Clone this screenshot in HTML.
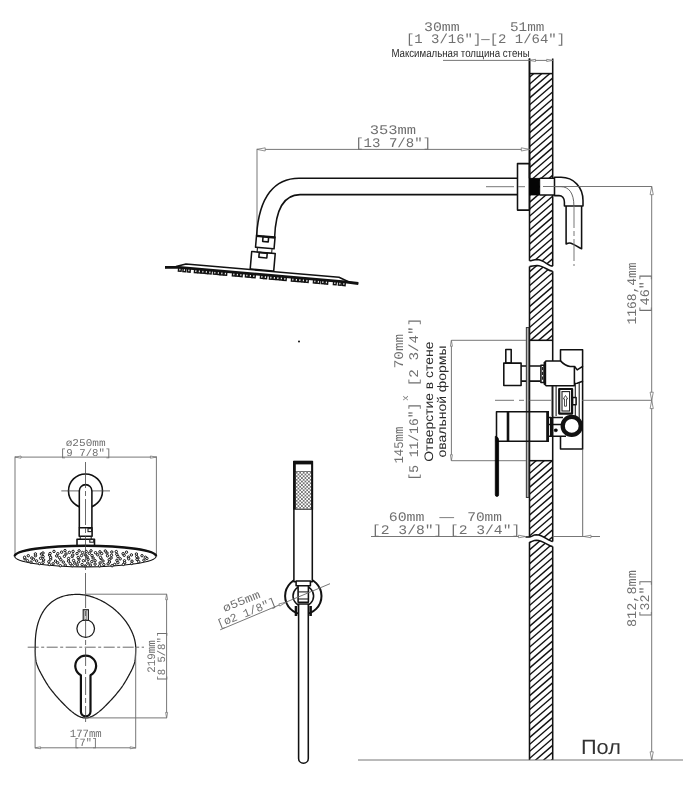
<!DOCTYPE html>
<html><head><meta charset="utf-8"><title>Shower system dimensions</title>
<style>
html,body{margin:0;padding:0;background:#fff;}
body{width:683px;height:800px;overflow:hidden;font-family:"Liberation Sans",sans-serif;}
svg{display:block;filter:grayscale(1)}
.k{fill:none;stroke:#111;stroke-width:1.55;stroke-linejoin:round;stroke-linecap:butt}
.pl{fill:#b5b5b5;stroke:#222;stroke-width:0.9}
.kw{fill:#fff;stroke:#111;stroke-width:1.1}
.kw2{fill:#fff;stroke:#111;stroke-width:1.55;stroke-linejoin:round}
.k2{fill:none;stroke:#222;stroke-width:1.1}
.k2g{fill:none;stroke:#555;stroke-width:0.9}
.k3{fill:#fff;stroke:#222;stroke-width:0.8}
.kb{fill:none;stroke:#111;stroke-width:2.6;stroke-linejoin:round}
.kb3{fill:none;stroke:#111;stroke-width:2.8;stroke-linejoin:round}
.ke{fill:none;stroke:#1a1a1a;stroke-width:1.25}
.kw3{fill:#fff;stroke:#1a1a1a;stroke-width:1.1}
.k4{fill:none;stroke:#333;stroke-width:0.6}
.kb2{fill:#fff;stroke:#111;stroke-width:2.2;stroke-linejoin:round}
.kf0{fill:#111;stroke:none}
.w0{fill:#fff;stroke:none}
.kf{fill:#050505;stroke:#050505;stroke-width:0.8}
.h{stroke:#111;stroke-width:1.4}
.d{fill:none;stroke:#707070;stroke-width:0.95}
.ar{fill:#fff;stroke:#777;stroke-width:0.8;stroke-linejoin:miter}
.d3{fill:none;stroke:#444;stroke-width:0.8}
.d2{fill:none;stroke:#666;stroke-width:0.9}
.nz{fill:none;stroke:#111;stroke-width:1.5}
.n{fill:#fff;stroke:#111;stroke-width:1.0}
text{text-rendering:geometricPrecision}
.t{font-family:"Liberation Mono",monospace;fill:#707070;}
.ts{font-family:"Liberation Sans",sans-serif;fill:#2a2a2a;}
.tp{font-family:"Liberation Sans",sans-serif;fill:#333;}
.dots{fill:url(#dotp);stroke:none}
</style></head><body>
<svg width="683" height="800" viewBox="0 0 683 800">
<defs><pattern id="dotp" x="295.8" y="471.9" width="3.5" height="3.5" patternUnits="userSpaceOnUse"><rect width="3.5" height="3.5" fill="#fff"/><rect x="0.2" y="0.2" width="1.35" height="1.35" fill="#111"/><rect x="1.95" y="1.95" width="1.35" height="1.35" fill="#111"/></pattern></defs>
<rect width="683" height="800" fill="#fff"/>
<clipPath id="c0"><path d="M529.5,74 L552.7,74 L552.7,178.3 L539.8,178.3 L539.8,195 L552.7,195 L552.7,266.1 C548,266.1 544,259.7 537,259.5 C533.5,259.5 532,260.8 529.5,260.8 Z"/></clipPath>
<g clip-path="url(#c0)">
<line class="h" x1="528.5" y1="29.41" x2="553.7" y2="7.61"/>
<line class="h" x1="528.5" y1="36.36" x2="553.7" y2="14.56"/>
<line class="h" x1="528.5" y1="43.31" x2="553.7" y2="21.51"/>
<line class="h" x1="528.5" y1="50.26" x2="553.7" y2="28.46"/>
<line class="h" x1="528.5" y1="57.21" x2="553.7" y2="35.41"/>
<line class="h" x1="528.5" y1="64.16" x2="553.7" y2="42.36"/>
<line class="h" x1="528.5" y1="71.11" x2="553.7" y2="49.32"/>
<line class="h" x1="528.5" y1="78.06" x2="553.7" y2="56.27"/>
<line class="h" x1="528.5" y1="85.02" x2="553.7" y2="63.22"/>
<line class="h" x1="528.5" y1="91.97" x2="553.7" y2="70.17"/>
<line class="h" x1="528.5" y1="98.92" x2="553.7" y2="77.12"/>
<line class="h" x1="528.5" y1="105.87" x2="553.7" y2="84.07"/>
<line class="h" x1="528.5" y1="112.82" x2="553.7" y2="91.02"/>
<line class="h" x1="528.5" y1="119.77" x2="553.7" y2="97.97"/>
<line class="h" x1="528.5" y1="126.72" x2="553.7" y2="104.92"/>
<line class="h" x1="528.5" y1="133.67" x2="553.7" y2="111.87"/>
<line class="h" x1="528.5" y1="140.62" x2="553.7" y2="118.83"/>
<line class="h" x1="528.5" y1="147.57" x2="553.7" y2="125.78"/>
<line class="h" x1="528.5" y1="154.53" x2="553.7" y2="132.73"/>
<line class="h" x1="528.5" y1="161.48" x2="553.7" y2="139.68"/>
<line class="h" x1="528.5" y1="168.43" x2="553.7" y2="146.63"/>
<line class="h" x1="528.5" y1="175.38" x2="553.7" y2="153.58"/>
<line class="h" x1="528.5" y1="182.33" x2="553.7" y2="160.53"/>
<line class="h" x1="528.5" y1="189.28" x2="553.7" y2="167.48"/>
<line class="h" x1="528.5" y1="196.23" x2="553.7" y2="174.43"/>
<line class="h" x1="528.5" y1="203.18" x2="553.7" y2="181.38"/>
<line class="h" x1="528.5" y1="210.13" x2="553.7" y2="188.34"/>
<line class="h" x1="528.5" y1="217.08" x2="553.7" y2="195.29"/>
<line class="h" x1="528.5" y1="224.04" x2="553.7" y2="202.24"/>
<line class="h" x1="528.5" y1="230.99" x2="553.7" y2="209.19"/>
<line class="h" x1="528.5" y1="237.94" x2="553.7" y2="216.14"/>
<line class="h" x1="528.5" y1="244.89" x2="553.7" y2="223.09"/>
<line class="h" x1="528.5" y1="251.84" x2="553.7" y2="230.04"/>
<line class="h" x1="528.5" y1="258.79" x2="553.7" y2="236.99"/>
<line class="h" x1="528.5" y1="265.74" x2="553.7" y2="243.94"/>
<line class="h" x1="528.5" y1="272.69" x2="553.7" y2="250.89"/>
<line class="h" x1="528.5" y1="279.64" x2="553.7" y2="257.85"/>
<line class="h" x1="528.5" y1="286.59" x2="553.7" y2="264.80"/>
<line class="h" x1="528.5" y1="293.55" x2="553.7" y2="271.75"/>
<line class="h" x1="528.5" y1="300.50" x2="553.7" y2="278.70"/>
<line class="h" x1="528.5" y1="307.45" x2="553.7" y2="285.65"/>
</g>
<clipPath id="c1"><path d="M529.5,266.5 C532,266.5 533.5,265.4 537,265.4 C544,265.6 548,271.2 552.7,271.2 L552.7,340.3 L529.5,340.3 Z"/></clipPath>
<g clip-path="url(#c1)">
<line class="h" x1="528.5" y1="217.09" x2="553.7" y2="195.29"/>
<line class="h" x1="528.5" y1="224.04" x2="553.7" y2="202.24"/>
<line class="h" x1="528.5" y1="230.99" x2="553.7" y2="209.19"/>
<line class="h" x1="528.5" y1="237.94" x2="553.7" y2="216.14"/>
<line class="h" x1="528.5" y1="244.89" x2="553.7" y2="223.09"/>
<line class="h" x1="528.5" y1="251.84" x2="553.7" y2="230.04"/>
<line class="h" x1="528.5" y1="258.79" x2="553.7" y2="236.99"/>
<line class="h" x1="528.5" y1="265.74" x2="553.7" y2="243.94"/>
<line class="h" x1="528.5" y1="272.69" x2="553.7" y2="250.89"/>
<line class="h" x1="528.5" y1="279.64" x2="553.7" y2="257.85"/>
<line class="h" x1="528.5" y1="286.60" x2="553.7" y2="264.80"/>
<line class="h" x1="528.5" y1="293.55" x2="553.7" y2="271.75"/>
<line class="h" x1="528.5" y1="300.50" x2="553.7" y2="278.70"/>
<line class="h" x1="528.5" y1="307.45" x2="553.7" y2="285.65"/>
<line class="h" x1="528.5" y1="314.40" x2="553.7" y2="292.60"/>
<line class="h" x1="528.5" y1="321.35" x2="553.7" y2="299.55"/>
<line class="h" x1="528.5" y1="328.30" x2="553.7" y2="306.50"/>
<line class="h" x1="528.5" y1="335.25" x2="553.7" y2="313.45"/>
<line class="h" x1="528.5" y1="342.20" x2="553.7" y2="320.41"/>
<line class="h" x1="528.5" y1="349.15" x2="553.7" y2="327.36"/>
<line class="h" x1="528.5" y1="356.11" x2="553.7" y2="334.31"/>
<line class="h" x1="528.5" y1="363.06" x2="553.7" y2="341.26"/>
<line class="h" x1="528.5" y1="370.01" x2="553.7" y2="348.21"/>
<line class="h" x1="528.5" y1="376.96" x2="553.7" y2="355.16"/>
</g>
<clipPath id="c2"><path d="M529.5,460.7 L552.7,460.7 L552.7,541.4 C548,541.4 544,535 536.4,534.8 C533,534.8 531.5,537 529.5,537 Z"/></clipPath>
<g clip-path="url(#c2)">
<line class="h" x1="528.5" y1="418.66" x2="553.7" y2="396.87"/>
<line class="h" x1="528.5" y1="425.62" x2="553.7" y2="403.82"/>
<line class="h" x1="528.5" y1="432.57" x2="553.7" y2="410.77"/>
<line class="h" x1="528.5" y1="439.52" x2="553.7" y2="417.72"/>
<line class="h" x1="528.5" y1="446.47" x2="553.7" y2="424.67"/>
<line class="h" x1="528.5" y1="453.42" x2="553.7" y2="431.62"/>
<line class="h" x1="528.5" y1="460.37" x2="553.7" y2="438.57"/>
<line class="h" x1="528.5" y1="467.32" x2="553.7" y2="445.52"/>
<line class="h" x1="528.5" y1="474.27" x2="553.7" y2="452.47"/>
<line class="h" x1="528.5" y1="481.22" x2="553.7" y2="459.43"/>
<line class="h" x1="528.5" y1="488.17" x2="553.7" y2="466.38"/>
<line class="h" x1="528.5" y1="495.13" x2="553.7" y2="473.33"/>
<line class="h" x1="528.5" y1="502.08" x2="553.7" y2="480.28"/>
<line class="h" x1="528.5" y1="509.03" x2="553.7" y2="487.23"/>
<line class="h" x1="528.5" y1="515.98" x2="553.7" y2="494.18"/>
<line class="h" x1="528.5" y1="522.93" x2="553.7" y2="501.13"/>
<line class="h" x1="528.5" y1="529.88" x2="553.7" y2="508.08"/>
<line class="h" x1="528.5" y1="536.83" x2="553.7" y2="515.03"/>
<line class="h" x1="528.5" y1="543.78" x2="553.7" y2="521.98"/>
<line class="h" x1="528.5" y1="550.73" x2="553.7" y2="528.94"/>
<line class="h" x1="528.5" y1="557.68" x2="553.7" y2="535.89"/>
<line class="h" x1="528.5" y1="564.64" x2="553.7" y2="542.84"/>
<line class="h" x1="528.5" y1="571.59" x2="553.7" y2="549.79"/>
<line class="h" x1="528.5" y1="578.54" x2="553.7" y2="556.74"/>
</g>
<clipPath id="c3"><path d="M529.5,542.1 C531.5,542.1 533,540.2 536.4,540.2 C544,540.4 548,546.5 552.7,546.5 L552.7,760 L529.5,760 Z"/></clipPath>
<g clip-path="url(#c3)">
<line class="h" x1="528.5" y1="495.12" x2="553.7" y2="473.33"/>
<line class="h" x1="528.5" y1="502.08" x2="553.7" y2="480.28"/>
<line class="h" x1="528.5" y1="509.03" x2="553.7" y2="487.23"/>
<line class="h" x1="528.5" y1="515.98" x2="553.7" y2="494.18"/>
<line class="h" x1="528.5" y1="522.93" x2="553.7" y2="501.13"/>
<line class="h" x1="528.5" y1="529.88" x2="553.7" y2="508.08"/>
<line class="h" x1="528.5" y1="536.83" x2="553.7" y2="515.03"/>
<line class="h" x1="528.5" y1="543.78" x2="553.7" y2="521.98"/>
<line class="h" x1="528.5" y1="550.73" x2="553.7" y2="528.94"/>
<line class="h" x1="528.5" y1="557.68" x2="553.7" y2="535.89"/>
<line class="h" x1="528.5" y1="564.64" x2="553.7" y2="542.84"/>
<line class="h" x1="528.5" y1="571.59" x2="553.7" y2="549.79"/>
<line class="h" x1="528.5" y1="578.54" x2="553.7" y2="556.74"/>
<line class="h" x1="528.5" y1="585.49" x2="553.7" y2="563.69"/>
<line class="h" x1="528.5" y1="592.44" x2="553.7" y2="570.64"/>
<line class="h" x1="528.5" y1="599.39" x2="553.7" y2="577.59"/>
<line class="h" x1="528.5" y1="606.34" x2="553.7" y2="584.54"/>
<line class="h" x1="528.5" y1="613.29" x2="553.7" y2="591.49"/>
<line class="h" x1="528.5" y1="620.24" x2="553.7" y2="598.45"/>
<line class="h" x1="528.5" y1="627.19" x2="553.7" y2="605.40"/>
<line class="h" x1="528.5" y1="634.15" x2="553.7" y2="612.35"/>
<line class="h" x1="528.5" y1="641.10" x2="553.7" y2="619.30"/>
<line class="h" x1="528.5" y1="648.05" x2="553.7" y2="626.25"/>
<line class="h" x1="528.5" y1="655.00" x2="553.7" y2="633.20"/>
<line class="h" x1="528.5" y1="661.95" x2="553.7" y2="640.15"/>
<line class="h" x1="528.5" y1="668.90" x2="553.7" y2="647.10"/>
<line class="h" x1="528.5" y1="675.85" x2="553.7" y2="654.05"/>
<line class="h" x1="528.5" y1="682.80" x2="553.7" y2="661.00"/>
<line class="h" x1="528.5" y1="689.75" x2="553.7" y2="667.96"/>
<line class="h" x1="528.5" y1="696.70" x2="553.7" y2="674.91"/>
<line class="h" x1="528.5" y1="703.66" x2="553.7" y2="681.86"/>
<line class="h" x1="528.5" y1="710.61" x2="553.7" y2="688.81"/>
<line class="h" x1="528.5" y1="717.56" x2="553.7" y2="695.76"/>
<line class="h" x1="528.5" y1="724.51" x2="553.7" y2="702.71"/>
<line class="h" x1="528.5" y1="731.46" x2="553.7" y2="709.66"/>
<line class="h" x1="528.5" y1="738.41" x2="553.7" y2="716.61"/>
<line class="h" x1="528.5" y1="745.36" x2="553.7" y2="723.56"/>
<line class="h" x1="528.5" y1="752.31" x2="553.7" y2="730.51"/>
<line class="h" x1="528.5" y1="759.26" x2="553.7" y2="737.47"/>
<line class="h" x1="528.5" y1="766.21" x2="553.7" y2="744.42"/>
<line class="h" x1="528.5" y1="773.17" x2="553.7" y2="751.37"/>
<line class="h" x1="528.5" y1="780.12" x2="553.7" y2="758.32"/>
<line class="h" x1="528.5" y1="787.07" x2="553.7" y2="765.27"/>
<line class="h" x1="528.5" y1="794.02" x2="553.7" y2="772.22"/>
</g>
<line class="k" x1="529.5" y1="58.5" x2="529.5" y2="178.3"/>
<path class="k" d="M529.5,58.5 V260.8" />
<path class="k" d="M552.7,58.5 V178.3" />
<path class="k" d="M552.7,195 V266.1" />
<path class="k" d="M529.5,266.5 V537" />
<path class="k" d="M552.7,271.2 V541.4" />
<path class="k" d="M529.5,542.1 V760" />
<path class="k" d="M552.7,546.5 V760" />
<line class="k" x1="529.5" y1="73.6" x2="552.7" y2="73.6"/>
<path class="k" d="M529.5,260.8 C532,260.8 533.5,259.5 537,259.5 C544,259.7 548,266.1 552.7,266.1" />
<path class="k" d="M529.5,266.5 C532,266.5 533.5,265.4 537,265.4 C544,265.6 548,271.2 552.7,271.2" />
<path class="k" d="M525.5,537 L529.5,537 C531.5,537 533,534.8 536.4,534.8 C544,535 548,541.4 552.7,541.4" />
<path class="k" d="M529.5,542.1 C531.5,542.1 533,540.2 536.4,540.2 C544,540.4 548,546.5 552.7,546.5" />
<line class="k" x1="529.5" y1="340.3" x2="552.7" y2="340.3"/>
<line class="k" x1="529.5" y1="460.7" x2="552.7" y2="460.7"/>
<line class="d" x1="443" y1="60.4" x2="529.5" y2="60.4"/>
<line class="d" x1="529.5" y1="60.4" x2="552.7" y2="60.4"/>
<path class="ar" d="M529.50,60.40 L535.50,59.30 L535.50,61.50 Z"/>
<path class="ar" d="M552.70,60.40 L546.70,61.50 L546.70,59.30 Z"/>
<line class="d" x1="257" y1="149.4" x2="529.5" y2="149.4"/>
<line class="d" x1="257" y1="148.8" x2="257" y2="236"/>
<path class="ar" d="M257.00,149.40 L265.20,147.80 L265.20,151.00 Z"/>
<path class="ar" d="M529.50,149.40 L521.30,151.00 L521.30,147.80 Z"/>
<path class="k" d="M517.5,178.2 H299 C275,178.2 259,196 256.6,235.6" />
<path class="k" d="M517.5,194.6 H300 C284,194.6 275.5,210 274.6,237.8" />
<rect class="k" x="517.5" y="163.6" width="12" height="46.5" />
<rect class="kf" x="529.5" y="178.3" width="10.3" height="16.7" />
<path class="k" d="M539.8,178.3 H554 M539.8,195 H554" />
<path class="kw2" d="M554.5,177.3 H561 C573.5,177.3 583,187 583,200.6 V206 H564.4 V202 C564.4,198 562,195.6 559,195.6 H554.5 Z" />
<path class="k2g" d="M555,186.7 H561 C568.5,186.7 573.9,192.5 573.9,206" />
<path class="k" d="M566.1,206 V244 C568,243 569.5,242.8 571,243.2 C575,244.5 578,247.5 581.6,248.8 V206" />
<path class="d" d="M486,186.7 H514 M518,186.7 H525" />
<path class="d2" d="M543,186.5 H652" />
<path class="d" d="M574,206 V266" stroke-dasharray="22 3 5 3"/>
<g transform="rotate(5 265 242)">
<rect class="k" x="256" y="236.2" width="18.6" height="11.8" />
<path class="k" d="M256,237 H274.6" />
<rect class="k" x="262.6" y="236.6" width="5.6" height="5" />
<path class="k2" d="M258,248 V252.6 H272.6 V248" />
<rect class="k" x="252.6" y="252.6" width="23.6" height="17.6" />
<rect class="k" x="260.2" y="253" width="8" height="4.8" />
</g>
<path class="k" d="M165,267.4 L176,266.6 L186,264 L339,277.3 L349.5,282.2 L358.3,283.4" />
<path class="kb3" d="M165,267.4 L179,267.4 L345,281.9 L358.3,283.5" />
<path class="nz" d="M178.7,268.1 v3.1 h2.6 v-3.1" transform="rotate(5 180.0 268.1)"/>
<path class="nz" d="M183.2,268.5 v3.1 h2.6 v-3.1" transform="rotate(5 184.5 268.5)"/>
<path class="nz" d="M187.7,268.9 v3.1 h2.6 v-3.1" transform="rotate(5 189.0 268.9)"/>
<path class="nz" d="M194.7,269.5 v3.1 h2.6 v-3.1" transform="rotate(5 196.0 269.5)"/>
<path class="nz" d="M198.2,269.8 v3.1 h2.6 v-3.1" transform="rotate(5 199.5 269.8)"/>
<path class="nz" d="M201.7,270.1 v3.1 h2.6 v-3.1" transform="rotate(5 203.0 270.1)"/>
<path class="nz" d="M205.2,270.4 v3.1 h2.6 v-3.1" transform="rotate(5 206.5 270.4)"/>
<path class="nz" d="M208.7,270.7 v3.1 h2.6 v-3.1" transform="rotate(5 210.0 270.7)"/>
<path class="nz" d="M213.7,271.1 v3.1 h2.6 v-3.1" transform="rotate(5 215.0 271.1)"/>
<path class="nz" d="M217.2,271.4 v3.1 h2.6 v-3.1" transform="rotate(5 218.5 271.4)"/>
<path class="nz" d="M220.7,271.8 v3.1 h2.6 v-3.1" transform="rotate(5 222.0 271.8)"/>
<path class="nz" d="M224.2,272.1 v3.1 h2.6 v-3.1" transform="rotate(5 225.5 272.1)"/>
<path class="nz" d="M232.7,272.8 v3.1 h2.6 v-3.1" transform="rotate(5 234.0 272.8)"/>
<path class="nz" d="M236.2,273.1 v3.1 h2.6 v-3.1" transform="rotate(5 237.5 273.1)"/>
<path class="nz" d="M239.7,273.4 v3.1 h2.6 v-3.1" transform="rotate(5 241.0 273.4)"/>
<path class="nz" d="M245.7,273.9 v3.1 h2.6 v-3.1" transform="rotate(5 247.0 273.9)"/>
<path class="nz" d="M249.2,274.2 v3.1 h2.6 v-3.1" transform="rotate(5 250.5 274.2)"/>
<path class="nz" d="M252.7,274.5 v3.1 h2.6 v-3.1" transform="rotate(5 254.0 274.5)"/>
<path class="nz" d="M260.7,275.2 v3.1 h2.6 v-3.1" transform="rotate(5 262.0 275.2)"/>
<path class="nz" d="M264.2,275.6 v3.1 h2.6 v-3.1" transform="rotate(5 265.5 275.6)"/>
<path class="nz" d="M269.7,276.0 v3.1 h2.6 v-3.1" transform="rotate(5 271.0 276.0)"/>
<path class="nz" d="M273.2,276.3 v3.1 h2.6 v-3.1" transform="rotate(5 274.5 276.3)"/>
<path class="nz" d="M276.7,276.6 v3.1 h2.6 v-3.1" transform="rotate(5 278.0 276.6)"/>
<path class="nz" d="M280.2,276.9 v3.1 h2.6 v-3.1" transform="rotate(5 281.5 276.9)"/>
<path class="nz" d="M283.7,277.3 v3.1 h2.6 v-3.1" transform="rotate(5 285.0 277.3)"/>
<path class="nz" d="M291.7,278.0 v3.1 h2.6 v-3.1" transform="rotate(5 293.0 278.0)"/>
<path class="nz" d="M295.2,278.3 v3.1 h2.6 v-3.1" transform="rotate(5 296.5 278.3)"/>
<path class="nz" d="M298.7,278.6 v3.1 h2.6 v-3.1" transform="rotate(5 300.0 278.6)"/>
<path class="nz" d="M302.2,278.9 v3.1 h2.6 v-3.1" transform="rotate(5 303.5 278.9)"/>
<path class="nz" d="M305.7,279.2 v3.1 h2.6 v-3.1" transform="rotate(5 307.0 279.2)"/>
<path class="nz" d="M313.7,279.9 v3.1 h2.6 v-3.1" transform="rotate(5 315.0 279.9)"/>
<path class="nz" d="M317.2,280.2 v3.1 h2.6 v-3.1" transform="rotate(5 318.5 280.2)"/>
<path class="nz" d="M321.7,280.6 v3.1 h2.6 v-3.1" transform="rotate(5 323.0 280.6)"/>
<path class="nz" d="M325.2,280.9 v3.1 h2.6 v-3.1" transform="rotate(5 326.5 280.9)"/>
<path class="nz" d="M333.7,281.6 v3.1 h2.6 v-3.1" transform="rotate(5 335.0 281.6)"/>
<path class="nz" d="M338.7,282.1 v3.1 h2.6 v-3.1" transform="rotate(5 340.0 282.1)"/>
<path class="nz" d="M342.7,282.4 v3.1 h2.6 v-3.1" transform="rotate(5 344.0 282.4)"/>
<circle cx="299" cy="341.5" r="1" fill="#111"/>
<rect class="pl" x="526.3" y="327.6" width="2.6" height="169.8" />
<line class="d" x1="451.4" y1="340.3" x2="526" y2="340.3"/>
<line class="d" x1="451.4" y1="460.7" x2="526" y2="460.7"/>
<line class="d" x1="451.4" y1="340.3" x2="451.4" y2="460.7"/>
<path class="ar" d="M451.40,340.30 L452.40,346.30 L450.40,346.30 Z"/>
<path class="ar" d="M451.40,460.70 L450.40,454.70 L452.40,454.70 Z"/>
<path class="k" d="M560.5,360.9 V349.7 H582.6 V366.4 M582.6,381.3 V448.9 H560.5 V436.3" />
<line class="d3" x1="582.7" y1="448.9" x2="582.7" y2="536.5"/>
<rect class="kw2" x="505.8" y="349.5" width="5.4" height="13.6" />
<rect class="kw2" x="503.8" y="363.1" width="17.3" height="22.3" />
<path class="k" d="M521.1,365.9 H526.2 M521.1,381.1 H526.2 M529.5,365.9 H540.7 M529.5,381.1 H540.7" />
<rect class="kw2" x="540.9" y="365.3" width="3.3" height="17.2" />
<path class="k2" d="M542.5,367 V381" stroke-dasharray="3.2 1.6"/>
<path class="kw2" d="M544.7,362.4 L546.2,360.9 H560.5 C563,363.6 566,366 570.1,366.4 H574.4 V385.7 H546.2 L544.7,384.2 Z" />
<path class="kb" d="M544.9,362 V384.6" />
<path class="k" d="M574.4,366.2 L577.2,369.9 L582.6,366.4 V381.3 L577.2,383.2 L574.4,383.6" />
<path class="k2" d="M552.1,386 V416 M556.1,386 V416" />
<path class="k2" d="M575.3,384 V416 M579.2,383 V418" />
<rect class="kb2" x="559.2" y="389" width="12.9" height="24.6" />
<rect class="k2" x="562" y="391.6" width="7.6" height="19.4" />
<path class="k3" d="M565.5,395.5 l2.2,3.4 h-1.2 v7.3 h-2 v-7.3 h-1.2 z" />
<rect class="kw2" x="572.6" y="397.5" width="3.5" height="7.3" />
<path class="d2" d="M495,400.3 H514 M519,400.3 H524 M529.5,400.3 H551" />
<path class="d2" d="M582,400.3 H651" />
<rect class="k" x="496.5" y="411.7" width="51.6" height="29.5" />
<path class="kb" d="M508,411.7 V441.2" />
<path class="kb3" d="M547.6,411 V441.9" />
<path class="kf" d="M495.3,441 V436.3 C497.5,436.5 498.6,438 498.6,441 V494.8 A1.65,1.65 0 0 1 495.3,494.8 Z" />
<path class="k" d="M549,417.5 H563 M549,424.5 H563 M549,436.3 H566" />
<path class="kb" d="M551.2,417.5 V436.3" />
<circle cx="571.75" cy="425.9" r="9.05" fill="#fff" stroke="#111" stroke-width="4.3"/>
<rect class="kf" x="554.3" y="429" width="3" height="2.6" rx="1"/>
<line class="d" x1="371" y1="536.5" x2="525.5" y2="536.5"/>
<line class="d" x1="552.7" y1="536.5" x2="600" y2="536.5"/>
<path class="ar" d="M525.50,536.50 L518.50,537.80 L518.50,535.20 Z"/>
<path class="ar" d="M584.00,536.50 L591.00,535.20 L591.00,537.80 Z"/>
<line class="d" x1="651.7" y1="186.4" x2="651.7" y2="760"/>
<path class="ar" d="M651.70,186.50 L653.30,194.70 L650.10,194.70 Z"/>
<path class="ar" d="M651.70,400.40 L650.10,392.20 L653.30,392.20 Z"/>
<path class="ar" d="M651.70,400.40 L653.30,408.60 L650.10,408.60 Z"/>
<path class="ar" d="M651.70,760.00 L650.10,751.80 L653.30,751.80 Z"/>
<line class="d2" x1="358" y1="760" x2="683" y2="760"/>
<line class="d" x1="15" y1="457.1" x2="156.4" y2="457.1"/>
<line class="d" x1="15" y1="456.5" x2="15" y2="556"/>
<line class="d" x1="156.4" y1="456.5" x2="156.4" y2="556"/>
<path class="ar" d="M15.00,457.10 L21.00,456.00 L21.00,458.20 Z"/>
<path class="ar" d="M156.40,457.10 L150.40,458.20 L150.40,456.00 Z"/>
<circle class="k" cx="85.5" cy="490.9" r="17"/>
<line class="d3" x1="61.3" y1="490.9" x2="110" y2="490.9"/>
<path class="kw2" d="M79.3,527.7 V490.9 A6.3,6.3 0 0 1 91.9,490.9 V527.7" />
<rect class="kw2" x="79.2" y="527.7" width="12.9" height="8.5" />
<rect class="k2" x="88" y="528.6" width="3.6" height="3" />
<path class="k2" d="M80.2,536.2 V539.2 M91.2,536.2 V539.2" />
<rect class="kw2" x="77" y="539.2" width="17.5" height="6.6" />
<rect class="k2" x="89.8" y="539.5" width="3.9" height="2.7" />
<ellipse cx="85.4" cy="556.3" rx="70.7" ry="10.6" fill="#fff" stroke="#111" stroke-width="1.1"/>
<path d="M14.7,556.3 A70.7,10.6 0 0 1 156.1,556.3" fill="none" stroke="#111" stroke-width="2.4"/>
<circle cx="93.1" cy="558.0" r="1.2" class="n"/>
<circle cx="88.1" cy="559.3" r="1.2" class="n"/>
<circle cx="79.0" cy="559.0" r="1.2" class="n"/>
<circle cx="78.2" cy="557.5" r="1.2" class="n"/>
<circle cx="87.1" cy="556.9" r="1.2" class="n"/>
<circle cx="101.1" cy="558.6" r="1.2" class="n"/>
<circle cx="95.1" cy="560.7" r="1.2" class="n"/>
<circle cx="83.4" cy="560.7" r="1.2" class="n"/>
<circle cx="73.6" cy="560.5" r="1.2" class="n"/>
<circle cx="68.6" cy="558.5" r="1.2" class="n"/>
<circle cx="72.2" cy="556.5" r="1.2" class="n"/>
<circle cx="81.5" cy="555.6" r="1.2" class="n"/>
<circle cx="92.0" cy="555.6" r="1.2" class="n"/>
<circle cx="100.5" cy="557.4" r="1.2" class="n"/>
<circle cx="109.2" cy="559.7" r="1.2" class="n"/>
<circle cx="103.0" cy="561.0" r="1.2" class="n"/>
<circle cx="91.8" cy="561.6" r="1.2" class="n"/>
<circle cx="78.6" cy="561.8" r="1.2" class="n"/>
<circle cx="68.5" cy="561.1" r="1.2" class="n"/>
<circle cx="60.8" cy="559.7" r="1.2" class="n"/>
<circle cx="59.5" cy="557.7" r="1.2" class="n"/>
<circle cx="64.4" cy="556.3" r="1.2" class="n"/>
<circle cx="72.8" cy="555.0" r="1.2" class="n"/>
<circle cx="85.3" cy="554.8" r="1.2" class="n"/>
<circle cx="97.7" cy="554.8" r="1.2" class="n"/>
<circle cx="107.5" cy="555.8" r="1.2" class="n"/>
<circle cx="111.1" cy="558.0" r="1.2" class="n"/>
<circle cx="116.9" cy="560.3" r="1.2" class="n"/>
<circle cx="109.5" cy="562.0" r="1.2" class="n"/>
<circle cx="100.1" cy="562.9" r="1.2" class="n"/>
<circle cx="87.8" cy="563.1" r="1.2" class="n"/>
<circle cx="74.8" cy="563.1" r="1.2" class="n"/>
<circle cx="63.3" cy="562.1" r="1.2" class="n"/>
<circle cx="55.5" cy="561.1" r="1.2" class="n"/>
<circle cx="50.7" cy="559.1" r="1.2" class="n"/>
<circle cx="50.6" cy="557.3" r="1.2" class="n"/>
<circle cx="56.7" cy="555.9" r="1.2" class="n"/>
<circle cx="66.0" cy="554.0" r="1.2" class="n"/>
<circle cx="77.0" cy="553.6" r="1.2" class="n"/>
<circle cx="89.3" cy="553.3" r="1.2" class="n"/>
<circle cx="101.7" cy="553.6" r="1.2" class="n"/>
<circle cx="111.5" cy="555.3" r="1.2" class="n"/>
<circle cx="117.9" cy="556.5" r="1.2" class="n"/>
<circle cx="120.2" cy="558.8" r="1.2" class="n"/>
<circle cx="124.5" cy="560.8" r="1.2" class="n"/>
<circle cx="117.9" cy="562.7" r="1.2" class="n"/>
<circle cx="108.1" cy="563.8" r="1.2" class="n"/>
<circle cx="95.1" cy="564.1" r="1.2" class="n"/>
<circle cx="82.1" cy="564.6" r="1.2" class="n"/>
<circle cx="70.3" cy="563.6" r="1.2" class="n"/>
<circle cx="57.7" cy="562.8" r="1.2" class="n"/>
<circle cx="48.8" cy="561.7" r="1.2" class="n"/>
<circle cx="43.6" cy="559.9" r="1.2" class="n"/>
<circle cx="40.6" cy="558.3" r="1.2" class="n"/>
<circle cx="43.1" cy="556.6" r="1.2" class="n"/>
<circle cx="49.6" cy="555.1" r="1.2" class="n"/>
<circle cx="57.8" cy="553.7" r="1.2" class="n"/>
<circle cx="69.4" cy="552.4" r="1.2" class="n"/>
<circle cx="82.5" cy="552.5" r="1.2" class="n"/>
<circle cx="95.5" cy="552.7" r="1.2" class="n"/>
<circle cx="107.0" cy="553.0" r="1.2" class="n"/>
<circle cx="116.8" cy="554.3" r="1.2" class="n"/>
<circle cx="124.2" cy="555.3" r="1.2" class="n"/>
<circle cx="128.4" cy="557.1" r="1.2" class="n"/>
<circle cx="128.7" cy="558.8" r="1.2" class="n"/>
<circle cx="132.0" cy="561.2" r="1.2" class="n"/>
<circle cx="124.7" cy="562.8" r="1.2" class="n"/>
<circle cx="114.7" cy="564.4" r="1.2" class="n"/>
<circle cx="103.8" cy="564.6" r="1.2" class="n"/>
<circle cx="90.3" cy="565.1" r="1.2" class="n"/>
<circle cx="77.2" cy="564.9" r="1.2" class="n"/>
<circle cx="65.2" cy="565.1" r="1.2" class="n"/>
<circle cx="53.1" cy="563.8" r="1.2" class="n"/>
<circle cx="43.1" cy="562.3" r="1.2" class="n"/>
<circle cx="36.6" cy="560.9" r="1.2" class="n"/>
<circle cx="33.6" cy="559.2" r="1.2" class="n"/>
<circle cx="31.8" cy="558.0" r="1.2" class="n"/>
<circle cx="35.5" cy="555.7" r="1.2" class="n"/>
<circle cx="41.4" cy="554.0" r="1.2" class="n"/>
<circle cx="50.1" cy="553.5" r="1.2" class="n"/>
<circle cx="61.6" cy="552.2" r="1.2" class="n"/>
<circle cx="73.1" cy="551.4" r="1.2" class="n"/>
<circle cx="86.2" cy="551.5" r="1.2" class="n"/>
<circle cx="99.9" cy="551.8" r="1.2" class="n"/>
<circle cx="111.8" cy="552.0" r="1.2" class="n"/>
<circle cx="123.1" cy="553.7" r="1.2" class="n"/>
<circle cx="131.4" cy="554.9" r="1.2" class="n"/>
<circle cx="136.7" cy="556.5" r="1.2" class="n"/>
<circle cx="137.9" cy="558.1" r="1.2" class="n"/>
<circle cx="137.0" cy="559.4" r="1.2" class="n"/>
<circle cx="138.7" cy="561.7" r="1.2" class="n"/>
<circle cx="131.8" cy="563.5" r="1.2" class="n"/>
<circle cx="123.4" cy="564.4" r="1.2" class="n"/>
<circle cx="112.1" cy="565.7" r="1.2" class="n"/>
<circle cx="99.6" cy="565.8" r="1.2" class="n"/>
<circle cx="85.3" cy="565.9" r="1.2" class="n"/>
<circle cx="72.2" cy="565.7" r="1.2" class="n"/>
<circle cx="60.3" cy="565.7" r="1.2" class="n"/>
<circle cx="49.3" cy="564.5" r="1.2" class="n"/>
<circle cx="39.4" cy="563.6" r="1.2" class="n"/>
<circle cx="31.0" cy="562.1" r="1.2" class="n"/>
<circle cx="27.4" cy="560.7" r="1.2" class="n"/>
<circle cx="24.9" cy="558.8" r="1.2" class="n"/>
<circle cx="24.6" cy="557.3" r="1.2" class="n"/>
<circle cx="28.3" cy="555.7" r="1.2" class="n"/>
<circle cx="35.4" cy="553.9" r="1.2" class="n"/>
<circle cx="43.0" cy="553.0" r="1.2" class="n"/>
<circle cx="54.0" cy="551.4" r="1.2" class="n"/>
<circle cx="65.0" cy="550.6" r="1.2" class="n"/>
<circle cx="79.1" cy="550.8" r="1.2" class="n"/>
<circle cx="91.0" cy="550.8" r="1.2" class="n"/>
<circle cx="105.3" cy="551.0" r="1.2" class="n"/>
<circle cx="116.3" cy="551.6" r="1.2" class="n"/>
<circle cx="126.5" cy="552.2" r="1.2" class="n"/>
<circle cx="136.4" cy="554.0" r="1.2" class="n"/>
<circle cx="142.0" cy="555.7" r="1.2" class="n"/>
<circle cx="145.4" cy="557.3" r="1.2" class="n"/>
<circle cx="146.9" cy="558.4" r="1.2" class="n"/>
<circle cx="143.9" cy="560.2" r="1.2" class="n"/>
<path class="d3" d="M85.5,462 V590" stroke-dasharray="26 3 5 3"/>
<path class="ke" d="M78.30,594.40 L79.07,594.42 L79.99,594.46 L80.97,594.54 L82.00,594.64 L83.07,594.78 L84.16,594.94 L85.27,595.14 L86.40,595.36 L87.55,595.62 L88.71,595.90 L89.87,596.21 L91.05,596.56 L92.23,596.93 L93.41,597.33 L94.60,597.75 L95.79,598.21 L96.98,598.69 L98.16,599.20 L99.35,599.74 L100.52,600.30 L101.70,600.89 L102.87,601.50 L104.03,602.14 L105.18,602.81 L106.32,603.50 L107.45,604.21 L108.57,604.94 L109.68,605.70 L110.78,606.48 L111.86,607.28 L112.92,608.10 L113.97,608.95 L115.00,609.81 L116.02,610.69 L117.01,611.59 L117.99,612.50 L118.95,613.44 L119.89,614.39 L120.80,615.35 L121.70,616.33 L122.57,617.33 L123.41,618.33 L124.24,619.35 L125.04,620.38 L125.81,621.42 L126.56,622.48 L127.28,623.54 L127.98,624.60 L128.65,625.68 L129.29,626.76 L129.90,627.84 L130.48,628.93 L131.03,630.02 L131.56,631.11 L132.05,632.21 L132.52,633.30 L132.95,634.39 L133.36,635.47 L133.73,636.55 L134.07,637.63 L134.38,638.69 L134.65,639.75 L134.90,640.79 L135.11,641.81 L135.29,642.81 L135.44,643.79 L135.55,644.74 L135.63,645.65 L135.68,646.49 L135.70,647.20 L135.74,648.44 L135.73,649.67 L135.69,650.91 L135.65,652.14 L135.60,653.37 L135.54,654.60 L135.47,655.83 L135.38,657.05 L135.29,658.28 L135.19,659.49 L135.06,660.71 L134.82,661.92 L134.47,663.13 L134.05,664.33 L133.59,665.52 L133.12,666.72 L132.65,667.90 L132.15,669.08 L131.59,670.25 L131.01,671.42 L130.39,672.57 L129.76,673.72 L129.13,674.86 L128.51,676.00 L127.89,677.12 L127.28,678.24 L126.65,679.34 L126.02,680.44 L125.38,681.52 L124.73,682.60 L124.07,683.66 L123.40,684.72 L122.71,685.76 L121.99,686.79 L121.25,687.81 L120.50,688.82 L119.73,689.81 L118.96,690.79 L118.20,691.76 L117.45,692.71 L116.69,693.65 L115.93,694.57 L115.16,695.49 L114.38,696.38 L113.60,697.26 L112.82,698.13 L112.05,698.98 L111.27,699.81 L110.50,700.63 L109.74,701.44 L108.98,702.22 L108.24,702.99 L107.50,703.74 L106.78,704.48 L106.08,705.20 L105.38,705.90 L104.71,706.58 L104.04,707.24 L103.38,707.89 L102.72,708.51 L102.07,709.12 L101.42,709.71 L100.77,710.28 L100.13,710.83 L99.49,711.37 L98.85,711.88 L98.22,712.37 L97.60,712.84 L96.98,713.30 L96.37,713.73 L95.76,714.14 L95.17,714.53 L94.58,714.91 L94.00,715.26 L93.43,715.59 L92.87,715.90 L92.31,716.19 L91.76,716.45 L91.22,716.70 L90.68,716.92 L90.15,717.13 L89.62,717.31 L89.09,717.47 L88.57,717.61 L88.04,717.73 L87.52,717.83 L87.00,717.90 L86.48,717.96 L85.97,717.99 L85.45,718.00 L84.93,717.99 L84.42,717.96 L83.90,717.90 L83.38,717.83 L82.86,717.73 L82.33,717.61 L81.81,717.47 L81.28,717.31 L80.75,717.13 L80.22,716.92 L79.68,716.70 L79.14,716.45 L78.59,716.19 L78.03,715.90 L77.47,715.59 L76.90,715.26 L76.32,714.91 L75.73,714.53 L75.14,714.14 L74.53,713.73 L73.92,713.30 L73.30,712.84 L72.68,712.37 L72.05,711.88 L71.41,711.37 L70.77,710.83 L70.13,710.28 L69.48,709.71 L68.83,709.12 L68.18,708.51 L67.52,707.89 L66.86,707.24 L66.19,706.58 L65.52,705.90 L64.82,705.20 L64.12,704.48 L63.40,703.74 L62.66,702.99 L61.92,702.22 L61.16,701.44 L60.40,700.63 L59.63,699.81 L58.85,698.98 L58.08,698.13 L57.30,697.26 L56.52,696.38 L55.74,695.49 L54.97,694.57 L54.21,693.65 L53.45,692.71 L52.70,691.76 L51.94,690.79 L51.17,689.81 L50.40,688.82 L49.65,687.81 L48.91,686.79 L48.19,685.76 L47.50,684.72 L46.83,683.66 L46.17,682.60 L45.52,681.52 L44.88,680.44 L44.25,679.34 L43.62,678.24 L43.01,677.12 L42.39,676.00 L41.77,674.86 L41.14,673.72 L40.51,672.57 L39.89,671.42 L39.31,670.25 L38.75,669.08 L38.25,667.90 L37.78,666.72 L37.31,665.52 L36.85,664.33 L36.43,663.13 L36.08,661.92 L35.84,660.71 L35.71,659.49 L35.61,658.28 L35.52,657.05 L35.43,655.83 L35.36,654.60 L35.30,653.37 L35.25,652.14 L35.21,650.91 L35.17,649.67 L35.16,648.44 L35.20,647.20 L35.21,644.97 L35.24,643.23 L35.28,641.63 L35.34,640.13 L35.43,638.68 L35.53,637.30 L35.64,635.95 L35.78,634.64 L35.93,633.36 L36.10,632.11 L36.29,630.88 L36.50,629.68 L36.72,628.51 L36.97,627.36 L37.23,626.23 L37.50,625.11 L37.80,624.02 L38.11,622.95 L38.44,621.90 L38.79,620.87 L39.15,619.86 L39.53,618.86 L39.93,617.89 L40.35,616.93 L40.78,615.99 L41.23,615.07 L41.70,614.17 L42.18,613.29 L42.68,612.43 L43.19,611.58 L43.72,610.76 L44.27,609.95 L44.84,609.16 L45.42,608.39 L46.01,607.64 L46.62,606.91 L47.25,606.20 L47.89,605.51 L48.55,604.84 L49.23,604.19 L49.92,603.56 L50.62,602.95 L51.34,602.36 L52.08,601.79 L52.83,601.24 L53.59,600.71 L54.37,600.20 L55.17,599.71 L55.98,599.24 L56.81,598.79 L57.65,598.37 L58.51,597.97 L59.38,597.58 L60.27,597.22 L61.18,596.88 L62.10,596.56 L63.04,596.27 L64.00,595.99 L64.98,595.74 L65.98,595.51 L67.00,595.30 L68.04,595.11 L69.11,594.94 L70.21,594.80 L71.35,594.68 L72.52,594.58 L73.75,594.50 L75.06,594.44 L76.48,594.41 L78.30,594.40 Z" />
<circle class="ke" cx="85.7" cy="628.6" r="8.8"/>
<rect class="kw3" x="83.2" y="609.7" width="5.2" height="10.6" />
<path class="k4" d="M84.9,610 V620 M86.7,610 V620" />
<path class="d3" d="M27.7,647.2 H144" stroke-dasharray="11 2.5 3 2.5"/>
<path class="kb2" d="M80.9,675.2 A10.4,10.4 0 1 1 90.5,675.2 L90.5,711.5 A4.8,4.8 0 0 1 80.9,711.5 Z" />
<path class="d3" d="M85.6,590 V722" stroke-dasharray="18 3 5 3"/>
<line class="d" x1="85" y1="594.2" x2="167" y2="594.2"/>
<line class="d" x1="85" y1="717.9" x2="167" y2="717.9"/>
<line class="d" x1="166.6" y1="594.2" x2="166.6" y2="717.9"/>
<path class="ar" d="M166.60,594.20 L167.60,599.70 L165.60,599.70 Z"/>
<path class="ar" d="M166.60,717.90 L165.60,712.40 L167.60,712.40 Z"/>
<line class="d" x1="35.1" y1="650" x2="35.1" y2="748.3"/>
<line class="d" x1="135.7" y1="647" x2="135.7" y2="748.3"/>
<line class="d" x1="35.1" y1="747.8" x2="135.7" y2="747.8"/>
<path class="ar" d="M35.10,747.80 L40.60,746.80 L40.60,748.80 Z"/>
<path class="ar" d="M135.70,747.80 L130.20,748.80 L130.20,746.80 Z"/>
<circle class="k" cx="303.3" cy="596" r="18.2" style="stroke-width:2"/>
<circle class="k" cx="303.3" cy="596" r="10.3"/>
<rect class="kw2" x="293.9" y="461.6" width="18.4" height="120.2" />
<rect class="kf0" x="293.1" y="460.9" width="20" height="48.8" />
<rect class="w0" x="295.8" y="464.4" width="15.3" height="7" />
<rect class="dots" x="295.8" y="471.9" width="15.3" height="36.9" />
<rect class="kw2" x="296.1" y="581" width="14.3" height="4.7" />
<rect class="kw2" x="298.1" y="585.7" width="10.3" height="16.5" />
<line class="k2" x1="298.1" y1="591.9" x2="308.4" y2="591.9"/>
<line class="k2" x1="298.1" y1="599" x2="308.4" y2="599"/>
<path class="kw2" d="M298.6,604 V758.4 A4.85,4.85 0 0 0 308.3,758.4 V604 Z" />
<path class="kb" d="M296,606 V616 M310.6,606 V616" />
<line class="d" x1="220.2" y1="629.8" x2="330" y2="583.7"/>
<path class="ar" d="M285.80,602.30 L279.81,606.12 L278.88,603.91 Z"/>
<text class="t" x="424.01" y="30.70" font-size="13.2" textLength="35.64" lengthAdjust="spacingAndGlyphs">30mm</text>
<text class="t" x="509.94" y="30.70" font-size="13.2" textLength="34.39" lengthAdjust="spacingAndGlyphs">51mm</text>
<text class="t" x="405.91" y="43.10" font-size="13.2" textLength="159.19" lengthAdjust="spacingAndGlyphs">[1 3/16"]—[2 1/64"]</text>
<text class="ts" x="391.38" y="56.80" font-size="11.6" textLength="138.24" lengthAdjust="spacingAndGlyphs">Максимальная толщина стены</text>
<text class="t" x="369.67" y="133.50" font-size="13.2" textLength="46.39" lengthAdjust="spacingAndGlyphs">353mm</text>
<text class="t" x="355.19" y="147.20" font-size="13.2" textLength="75.92" lengthAdjust="spacingAndGlyphs">[13 7/8"]</text>
<text class="t" x="403.10" y="368.26" font-size="13.2" textLength="34.29" lengthAdjust="spacingAndGlyphs" transform="rotate(-90 403.10 368.26)">70mm</text>
<text class="t" x="418.20" y="386.25" font-size="13.2" textLength="68.51" lengthAdjust="spacingAndGlyphs" transform="rotate(-90 418.20 386.25)">[2 3/4"]</text>
<text class="t" x="408.50" y="400.88" font-size="9" textLength="5.77" lengthAdjust="spacingAndGlyphs" transform="rotate(-90 408.50 400.88)">x</text>
<text class="t" x="403.10" y="463.54" font-size="13.2" textLength="36.91" lengthAdjust="spacingAndGlyphs" transform="rotate(-90 403.10 463.54)">145mm</text>
<text class="t" x="418.20" y="480.60" font-size="13.2" textLength="77.89" lengthAdjust="spacingAndGlyphs" transform="rotate(-90 418.20 480.60)">[5 11/16"]</text>
<text class="ts" x="433.20" y="461.71" font-size="12.3" textLength="120.12" lengthAdjust="spacingAndGlyphs" transform="rotate(-90 433.20 461.71)">Отверстие в стене</text>
<text class="ts" x="446.00" y="457.46" font-size="12.3" textLength="111.93" lengthAdjust="spacingAndGlyphs" transform="rotate(-90 446.00 457.46)">овальной формы</text>
<text class="t" x="388.71" y="521.00" font-size="13.2" textLength="35.74" lengthAdjust="spacingAndGlyphs">60mm</text>
<text class="t" x="439.50" y="521.00" font-size="13.2" textLength="14.50" lengthAdjust="spacingAndGlyphs">—</text>
<text class="t" x="467.23" y="521.00" font-size="13.2" textLength="34.81" lengthAdjust="spacingAndGlyphs">70mm</text>
<text class="t" x="371.86" y="533.70" font-size="13.2" textLength="70.58" lengthAdjust="spacingAndGlyphs">[2 3/8"]</text>
<text class="t" x="449.87" y="533.70" font-size="13.2" textLength="70.36" lengthAdjust="spacingAndGlyphs">[2 3/4"]</text>
<text class="t" x="635.60" y="324.58" font-size="13.2" textLength="62.17" lengthAdjust="spacingAndGlyphs" transform="rotate(-90 635.60 324.58)">1168,4mm</text>
<text class="t" x="649.40" y="313.73" font-size="13.2" textLength="40.96" lengthAdjust="spacingAndGlyphs" transform="rotate(-90 649.40 313.73)">[46"]</text>
<text class="t" x="635.60" y="627.11" font-size="13.2" textLength="56.92" lengthAdjust="spacingAndGlyphs" transform="rotate(-90 635.60 627.11)">812,8mm</text>
<text class="t" x="649.40" y="618.35" font-size="13.2" textLength="39.81" lengthAdjust="spacingAndGlyphs" transform="rotate(-90 649.40 618.35)">[32"]</text>
<text class="tp" x="580.96" y="753.90" font-size="20.6" textLength="39.87" lengthAdjust="spacingAndGlyphs">Пол</text>
<text class="t" x="65.74" y="446.10" font-size="10.3" textLength="39.79" lengthAdjust="spacingAndGlyphs">ø250mm</text>
<text class="t" x="59.96" y="455.70" font-size="10.3" textLength="51.38" lengthAdjust="spacingAndGlyphs">[9 7/8"]</text>
<text class="t" x="155.30" y="672.65" font-size="11.4" textLength="32.47" lengthAdjust="spacingAndGlyphs" transform="rotate(-90 155.30 672.65)">219mm</text>
<text class="t" x="164.80" y="681.61" font-size="11" textLength="50.73" lengthAdjust="spacingAndGlyphs" transform="rotate(-90 164.80 681.61)">[8 5/8"]</text>
<text class="t" x="69.86" y="736.70" font-size="11" textLength="31.75" lengthAdjust="spacingAndGlyphs">177mm</text>
<text class="t" x="73.46" y="745.70" font-size="11" textLength="24.48" lengthAdjust="spacingAndGlyphs">[7"]</text>
<text class="t" x="224.47" y="611.89" font-size="11.5" textLength="39.28" lengthAdjust="spacingAndGlyphs" transform="rotate(-21.8 224.47 611.89)">ø55mm</text>
<text class="t" x="219.07" y="627.65" font-size="11.5" textLength="61.99" lengthAdjust="spacingAndGlyphs" transform="rotate(-21.8 219.07 627.65)">[ø2 1/8"]</text>
</svg>
</body></html>
